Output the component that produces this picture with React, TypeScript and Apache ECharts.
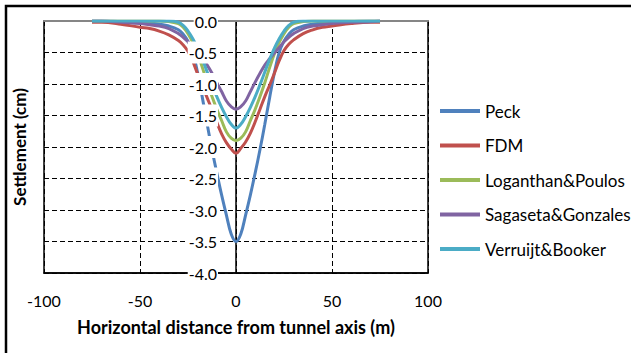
import React, { useEffect, useRef } from "react";
import * as echarts from "echarts";

const xs = [-75, -70, -60, -50, -45, -40, -35, -30, -27.5, -25, -22.5, -20, -17.5, -15, -12.5, -10, -7.5, -5, -2.5, 0, 2.5, 5, 7.5, 10, 12.5, 15, 17.5, 20, 22.5, 25, 27.5, 30, 35, 40, 45, 50, 60, 70, 75];
const peck = [0, 0, -0.01, -0.02, -0.03, -0.05, -0.08, -0.14, -0.21, -0.32, -0.5, -0.82, -1.22, -1.64, -2.04, -2.41, -2.76, -3.08, -3.38, -3.5, -3.38, -3.08, -2.76, -2.41, -2.04, -1.64, -1.22, -0.82, -0.5, -0.32, -0.21, -0.14, -0.08, -0.05, -0.03, -0.02, -0.01, 0, 0];
const fdm = [-0.02, -0.02, -0.05, -0.1, -0.12, -0.16, -0.22, -0.31, -0.38, -0.48, -0.64, -0.84, -1.03, -1.22, -1.41, -1.61, -1.79, -1.93, -2.03, -2.1, -2.02, -1.92, -1.78, -1.6, -1.4, -1.2, -1.02, -0.83, -0.63, -0.47, -0.37, -0.3, -0.2, -0.14, -0.1, -0.08, -0.04, -0.02, -0.02];
const loganthan = [0, 0, 0, 0, 0, 0, -0.01, -0.04, -0.1, -0.2, -0.34, -0.52, -0.74, -0.98, -1.2, -1.4, -1.58, -1.76, -1.86, -1.9, -1.86, -1.76, -1.58, -1.4, -1.2, -0.98, -0.74, -0.52, -0.34, -0.2, -0.1, -0.04, -0.01, 0, 0, 0, 0, 0, 0];
const sagaseta = [0, 0, -0.02, -0.04, -0.06, -0.08, -0.12, -0.2, -0.26, -0.33, -0.42, -0.51, -0.6, -0.7, -0.83, -0.98, -1.12, -1.27, -1.36, -1.4, -1.36, -1.27, -1.12, -0.97, -0.83, -0.7, -0.6, -0.51, -0.42, -0.33, -0.26, -0.2, -0.12, -0.08, -0.06, -0.04, -0.02, -0.01, 0];
const verruijt = [0, 0, 0, 0, 0, 0, 0, -0.02, -0.07, -0.16, -0.28, -0.43, -0.61, -0.81, -1.01, -1.2, -1.37, -1.52, -1.64, -1.7, -1.64, -1.52, -1.37, -1.2, -1.01, -0.81, -0.61, -0.43, -0.28, -0.16, -0.07, -0.02, 0, 0, 0, 0, 0, 0, 0];

const seriesNames = ["Peck", "FDM", "Loganthan&Poulos", "Sagaseta&Gonzales", "Verruijt&Booker"];
const seriesValues = [peck, fdm, loganthan, sagaseta, verruijt];
const colors = ["#4F81BD", "#C0504D", "#9BBB59", "#8064A2", "#4BACC6"];

const xTitle = "Horizontal distance from tunnel axis (m)";
const yTitle = "Settlement (cm)";

const FONT = "Lato, 'Open Sans', sans-serif";
// y axis drawn at x = 0 of the value range: half of the plot width to the right of the left edge
const Y_AXIS_SHIFT = -192;

export default function App() {
  const ref = useRef<HTMLDivElement>(null);
  useEffect(() => {
    if (!ref.current) return;
    const chart = echarts.init(ref.current, null, { renderer: "svg" });
    const option: any = {
      animation: false,
      backgroundColor: "#fff",
      textStyle: { fontFamily: FONT },
      grid: {
        left: 44,
        right: 203,
        top: 21,
        bottom: 80,
        containLabel: false,
        outerBoundsMode: "none",
        show: true,
        borderColor: "#000",
        borderWidth: 1.5,
        backgroundColor: "transparent",
        z: 0,
      },
      graphic: [
        {
          type: "rect",
          shape: { x: 6, y: 6, width: 700, height: 400 },
          style: { fill: "none", stroke: "#000", lineWidth: 2.5 },
          silent: true,
        },
      ],
      legend: {
        data: seriesNames,
        orient: "vertical",
        left: 435,
        top: 96,
        icon: "rect",
        itemWidth: 40,
        itemHeight: 4,
        itemGap: 14.5,
        textStyle: { fontSize: 17, fontFamily: FONT, color: "#000", lineHeight: 20 },
      },
      xAxis: [
        {
          type: "value",
          min: -100,
          max: 100,
          interval: 50,
          position: "bottom",
          axisLine: { onZero: false, lineStyle: { color: "#000", width: 1.5 } },
          axisTick: { show: false },
          axisLabel: { fontSize: 16, fontFamily: FONT, color: "#000", margin: 19 },
          splitLine: { show: true, lineStyle: { color: "#000", width: 1, type: [5, 3] } },
          name: xTitle,
          nameLocation: "middle",
          nameGap: 45,
          nameTextStyle: { fontSize: 18, fontWeight: "bold", fontFamily: FONT, color: "#000" },
          z: 1,
        },
        {
          type: "value",
          min: -100,
          max: 100,
          interval: 50,
          position: "top",
          axisLine: { onZero: false, lineStyle: { color: "#868686", width: 2 } },
          axisTick: { show: false },
          axisLabel: { show: false },
          splitLine: { show: false },
          z: 3,
        },
      ],
      yAxis: [
        {
          type: "value",
          min: -4,
          max: 0,
          interval: 0.5,
          position: "left",
          offset: Y_AXIS_SHIFT,
          axisLine: { show: true, onZero: false, lineStyle: { color: "#000", width: 1.5 } },
          axisTick: { show: false },
          axisLabel: { show: false },
          splitLine: { show: true, lineStyle: { color: "#000", width: 1, type: [5, 3] } },
          name: yTitle,
          nameLocation: "middle",
          nameGap: 208,
          nameRotate: 90,
          nameTextStyle: { fontSize: 17, fontWeight: "bold", fontFamily: FONT, color: "#000" },
          z: 1,
        },
        {
          type: "value",
          min: -4,
          max: 0,
          interval: 0.5,
          position: "left",
          offset: Y_AXIS_SHIFT,
          axisLine: { show: false, onZero: false },
          axisTick: { show: false },
          splitLine: { show: false },
          axisLabel: {
            fontSize: 16,
            fontFamily: FONT,
            color: "#000",
            margin: 18,
            lineHeight: 22,
            backgroundColor: "#fff",
            padding: [0, 1],
            formatter: (v: number) => v.toFixed(1),
          },
          z: 10,
        },
      ],
      series: seriesNames.map((name, i) => ({
        name,
        type: "line",
        xAxisIndex: 0,
        yAxisIndex: 0,
        data: xs.map((x, j) => [x, seriesValues[i][j]]),
        smooth: 0.4,
        symbol: "none",
        lineStyle: { width: 3, color: colors[i] },
        itemStyle: { color: colors[i] },
        z: 5,
      })),
    };
    chart.setOption(option);
    return () => chart.dispose();
  }, []);
  return (
    <div
      ref={ref}
      style={{ position: "absolute", left: 0, top: 0, width: 631, height: 353 }}
    />
  );
}
